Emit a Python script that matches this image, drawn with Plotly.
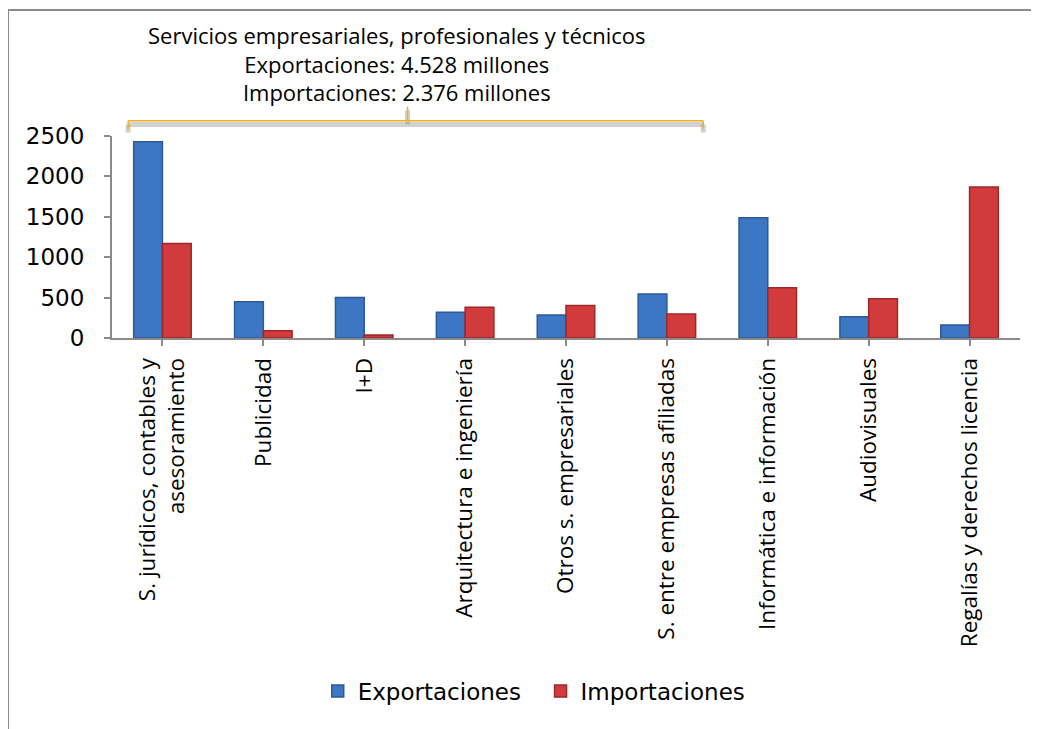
import plotly.graph_objects as go

categories = [
    "S. jurídicos, contables y<br>asesoramiento",
    "Publicidad",
    "I+D",
    "Arquitectura e ingeniería",
    "Otros s. empresariales",
    "S. entre empresas afiliadas",
    "Informática e información",
    "Audiovisuales",
    "Regalías y derechos licencia",
]
exportaciones = [2430, 450, 500, 318, 285, 545, 1487, 263, 161]
importaciones = [1170, 90, 38, 380, 402, 296, 622, 486, 1870]
y_ticks = [0, 500, 1000, 1500, 2000, 2500]

idx = list(range(len(categories)))

fig = go.Figure()
fig.add_trace(go.Bar(
    x=idx, y=exportaciones, name="Exportaciones\u00a0\u00a0",
    marker=dict(color="#3D76C2", line=dict(color="#2A5A9A", width=1.5)),
))
fig.add_trace(go.Bar(
    x=idx, y=importaciones, name="Importaciones",
    marker=dict(color="#D23B3B", line=dict(color="#9C2828", width=1.5)),
))

axis_gray = "#8A8A8A"
fig.update_layout(
    width=1039, height=729,
    margin=dict(l=104, r=27, t=128, b=399),
    paper_bgcolor="white", plot_bgcolor="white",
    barmode="group", bargap=0.43, bargroupgap=0,
    showlegend=True,
    legend=dict(orientation="h", x=0.465, xanchor="center", y=-1.748, yanchor="middle",
                font=dict(family="DejaVu Sans", size=23, color="black"),
                itemwidth=30, traceorder="normal"),
    xaxis=dict(
        tickmode="array", tickvals=idx, ticktext=categories,
        range=[-0.5, len(categories) - 0.5],
        tickangle=-90, tickson="boundaries",
        ticks="outside", ticklen=6, tickcolor=axis_gray, tickwidth=2,
        showline=True, linecolor=axis_gray, linewidth=2,
        showgrid=False, zeroline=False,
        tickfont=dict(family="Open Sans", size=22.5, color="black"),
        ticklabelstandoff=3,
    ),
    yaxis=dict(
        range=[0, 2500], tickvals=y_ticks,
        ticks="outside", ticklen=6, tickcolor=axis_gray, tickwidth=2,
        showline=True, linecolor=axis_gray, linewidth=2,
        showgrid=False, zeroline=False,
        tickfont=dict(family="DejaVu Sans", size=23, color="black"),
        ticklabelstandoff=15,
    ),
)

# Title annotation above bracket
fig.add_annotation(
    xref="paper", yref="paper", x=0.314, y=1.361, xanchor="center", yanchor="middle",
    text="Servicios empresariales, profesionales y técnicos<br>Exportaciones: 4.528 millones<br>Importaciones: 2.376 millones",
    showarrow=False, align="center",
    font=dict(family="Open Sans", size=22, color="black"),
)

# Bracket (shadow then gold line)
def bracket(color, width, dy, opacity):
    y_line = 1.075 - dy
    y_end = 1.035 - dy
    y_top = 1.145 - dy
    for (x0, y0, x1, y1) in [
        (-0.34, y_end, -0.34, y_line),
        (-0.34, y_line, 5.36, y_line),
        (5.36, y_line, 5.36, y_end),
        (2.43, y_line, 2.43, y_top),
    ]:
        fig.add_shape(type="line", xref="x", yref="paper", x0=x0, y0=y0, x1=x1, y1=y1,
                      line=dict(color=color, width=width), opacity=opacity, layer="above")

bracket("#9A9A9A", 5, 0.018, 0.45)
bracket("#F0B020", 1.5, 0.0, 1.0)

# Outer frame (top and left edges)
fig.add_shape(type="line", xref="paper", yref="paper", x0=-0.1145, y0=1.624, x1=1.05, y1=1.624,
              line=dict(color="#8C8C8C", width=2))
fig.add_shape(type="line", xref="paper", yref="paper", x0=-0.1145, y0=1.624, x1=-0.1145, y1=-1.98,
              line=dict(color="#8C8C8C", width=2))

fig.write_html("out.html")
